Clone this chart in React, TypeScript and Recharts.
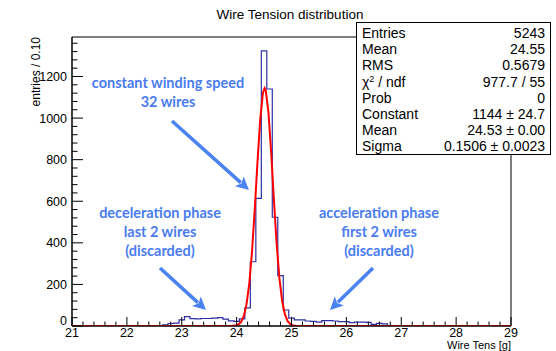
import { ComposedChart, Line, XAxis, YAxis, ReferenceArea } from 'recharts';

// histogram bins (left edges, width 0.10, centred on the tenths) and their counts
const histBins = [
  22.55, 22.65, 22.75, 22.85, 22.95, 23.05, 23.15, 23.25, 23.35, 23.45, 23.55, 23.65, 23.75, 23.85, 23.95,
  24.05, 24.15, 24.25, 24.35, 24.45, 24.55, 24.65, 24.75, 24.85, 24.95, 25.05, 25.15, 25.25, 25.35, 25.45,
  25.55, 25.65, 25.75, 25.85, 25.95, 26.05, 26.15, 26.25, 26.35, 26.45, 26.55, 26.65,
];
const histCounts = [
  2, 5, 12, 14, 29, 45, 35, 34, 36, 36, 38, 40, 33, 25, 22,
  34, 87, 309, 614, 1323, 1140, 523, 242, 77, 38, 29, 29, 24, 22, 19,
  26, 26, 24, 21, 21, 16, 19, 19, 17, 8, 13, 10,
];
const HIST_END = 26.75;

// gaussian fit curve
const fitX = [
  21, 23.88, 23.93, 23.98, 24.03, 24.08, 24.13, 24.18, 24.23, 24.28, 24.33, 24.38, 24.43, 24.48,
  24.51, 24.53, 24.58, 24.63, 24.68, 24.73, 24.78, 24.83, 24.88, 24.93, 24.98, 25.03, 25.08, 25.13, 29,
];
const fitY = [
  0, 0, 1, 2, 7, 19, 47, 104, 203, 356, 560, 788, 993, 1122,
  1144, 1134, 1027, 833, 605, 394, 229, 120, 56, 23, 9, 3, 1, 0, 0,
];

const xMajorTicks = [21, 22, 23, 24, 25, 26, 27, 28, 29];
const yMajorTicks = [0, 200, 400, 600, 800, 1000, 1200];
const X_MIN = 21;
const X_MAX = 29;
const Y_MAX = 1390;

const statsLabels = ['Entries', 'Mean', 'RMS', 'chi', 'Prob', 'Constant', 'Mean', 'Sigma'];
const statsValues = ['5243', '24.55', '0.5679', '977.7 / 55', '0', '1144 \u00b1 24.7', '24.53 \u00b1 0.00', '0.1506 \u00b1 0.0023'];

const histData = [
  { x: X_MIN, y: 0 },
  ...histBins.map((x, i) => ({ x, y: histCounts[i] })),
  { x: HIST_END, y: 0 },
  { x: X_MAX, y: 0 },
];
const fitData = fitX.map((x, i) => ({ x, y: fitY[i] }));

// minor ticks every 0.2 on x, every 40 on y
const xTicks: number[] = [];
for (let i = 0; i <= 40; i++) xTicks.push(+(X_MIN + i * 0.2).toFixed(1));
const yTicks: number[] = [];
for (let v = 0; v <= 1360; v += 40) yTicks.push(v);

const FONT = '"Liberation Sans", Arial, sans-serif';
const BLUE = '#4a82f2';

const XTick = (props: any) => {
  const { x, payload } = props;
  const v = payload.value;
  const major = xMajorTicks.some((m) => Math.abs(m - v) < 1e-6);
  return (
    <g>
      <line x1={x} y1={326} x2={x} y2={326 - (major ? 9 : 4.5)} stroke="#000" strokeWidth={1} />
      {major && (
        <text x={x} y={337} textAnchor="middle" fontSize={12.5} fontFamily={FONT} fill="#000">
          {Math.round(v)}
        </text>
      )}
    </g>
  );
};

const YTick = (props: any) => {
  const { y, payload } = props;
  const v = payload.value;
  const major = yMajorTicks.includes(v);
  return (
    <g>
      <line x1={72} y1={y} x2={72 + (major ? 11 : 5.5)} y2={y} stroke="#000" strokeWidth={1} />
      {major && (
        <text x={67} y={y + (v === 0 ? -1 : 4.5)} textAnchor="end" fontSize={12.5} fontFamily={FONT} fill="#000">
          {v}
        </text>
      )}
    </g>
  );
};

function Arrow({ x1, y1, x2, y2 }: { x1: number; y1: number; x2: number; y2: number }) {
  const a = Math.atan2(y2 - y1, x2 - x1);
  const len = 13;
  const half = 6.5;
  const bx = x2 - len * Math.cos(a);
  const by = y2 - len * Math.sin(a);
  const px = -Math.sin(a) * half;
  const py = Math.cos(a) * half;
  return (
    <g>
      <line x1={x1} y1={y1} x2={bx + 2 * Math.cos(a)} y2={by + 2 * Math.sin(a)} stroke={BLUE} strokeWidth={3.5} />
      <polygon points={`${x2},${y2} ${bx + px},${by + py} ${bx + 3 * Math.cos(a)},${by + 3 * Math.sin(a)} ${bx - px},${by - py}`} fill={BLUE} />
    </g>
  );
}

const noteStyle = { fontFamily: 'Lato, "Open Sans", sans-serif', fontWeight: 700, fontSize: 14.5, fill: '#4a7cf0' } as const;

export default function App() {
  return (
    <div style={{ position: 'relative', width: 556, height: 351, background: '#fff' }}>
      <style>{'body{margin:0}'}</style>
      <ComposedChart width={556} height={351} margin={{ top: 37, right: 45, left: 0, bottom: 0 }}>
        <XAxis
          type="number"
          dataKey="x"
          domain={[X_MIN, X_MAX]}
          ticks={xTicks}
          interval={0}
          height={25}
          tickLine={false}
          tick={<XTick />}
          axisLine={{ stroke: '#000' }}
          allowDataOverflow
        />
        <YAxis
          type="number"
          domain={[0, Y_MAX]}
          ticks={yTicks}
          interval={0}
          width={72}
          tickLine={false}
          tick={<YTick />}
          axisLine={{ stroke: '#000' }}
          allowDataOverflow
        />
        <ReferenceArea x1={X_MIN} x2={X_MAX} y1={0} y2={Y_MAX} fill="none" stroke="#000" strokeWidth={1} ifOverflow="visible" />
        <Line
          data={histData}
          dataKey="y"
          type="stepAfter"
          stroke="#2f2fa3"
          strokeWidth={1.2}
          dot={false}
          isAnimationActive={false}
        />
        <Line
          data={fitData}
          dataKey="y"
          type="linear"
          stroke="#ff0000"
          strokeWidth={2}
          dot={false}
          isAnimationActive={false}
        />
      </ComposedChart>

      <svg width={556} height={351} style={{ position: 'absolute', left: 0, top: 0, pointerEvents: 'none' }}>
        <text x={290} y={19} textAnchor="middle" fontSize={13.5} fontFamily={FONT} fill="#000">
          Wire Tension distribution
        </text>
        <text x={511} y={348.8} textAnchor="end" fontSize={11} fontFamily={FONT} fill="#000">
          Wire Tens [g]
        </text>
        <text x={0} y={0} transform="translate(40,37) rotate(-90)" textAnchor="end" fontSize={12} fontFamily={FONT} fill="#000">
          entries / 0.10
        </text>

        <text x={168} y={88} textAnchor="middle" style={noteStyle}>constant winding speed</text>
        <text x={168} y={107} textAnchor="middle" style={noteStyle}>32 wires</text>
        <text x={160} y={218} textAnchor="middle" style={noteStyle}>deceleration phase</text>
        <text x={160} y={237} textAnchor="middle" style={noteStyle}>last 2 wires</text>
        <text x={160} y={256} textAnchor="middle" style={noteStyle}>(discarded)</text>
        <text x={379} y={218} textAnchor="middle" style={noteStyle}>acceleration phase</text>
        <text x={379} y={237} textAnchor="middle" style={noteStyle}>first 2 wires</text>
        <text x={379} y={256} textAnchor="middle" style={noteStyle}>(discarded)</text>

        <Arrow x1={172} y1={121} x2={249} y2={190} />
        <Arrow x1={160} y1={268} x2={206} y2={310} />
        <Arrow x1={373} y1={268} x2={330} y2={310} />
      </svg>

      <div
        style={{
          position: 'absolute',
          left: 356,
          top: 22,
          width: 195,
          height: 133,
          border: '1px solid #000',
          background: '#fff',
          fontFamily: FONT,
          fontSize: 14,
          color: '#000',
          padding: '2px 5px 0 5px',
          boxSizing: 'border-box',
        }}
      >
        {statsLabels.map((label, i) => (
          <div key={i} style={{ display: 'flex', justifyContent: 'space-between', height: 16.2, lineHeight: '16.2px' }}>
            <span>
              {label === 'chi' ? (
                <>
                  {'\u03c7'}
                  <sup style={{ fontSize: 9, verticalAlign: 'top', lineHeight: '10px' }}>2</sup>
                  {' / ndf'}
                </>
              ) : (
                label
              )}
            </span>
            <span>{statsValues[i]}</span>
          </div>
        ))}
      </div>
    </div>
  );
}
